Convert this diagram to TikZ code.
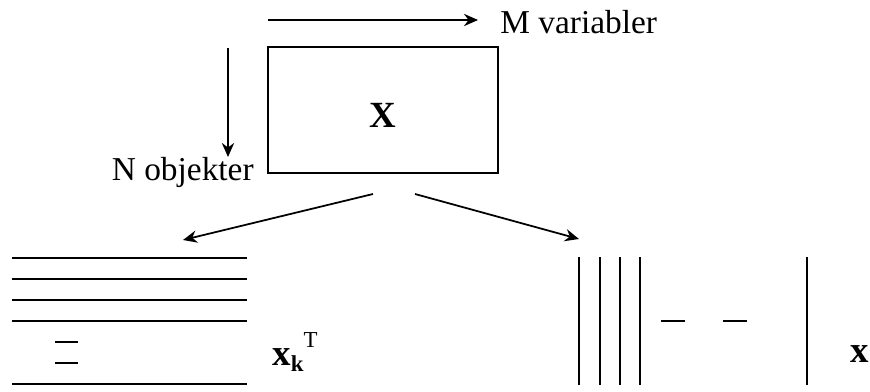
\documentclass[tikz,border=0pt]{standalone}
\usepackage{fontspec}
\setmainfont{Liberation Serif}
\usetikzlibrary{arrows.meta}

\tikzset{
  pil/.style={line width=1pt, -{Stealth[length=8pt,width=7pt]}},
  strek/.style={line width=1.6pt},
  tekst/.style={font=\fontsize{19}{21}\selectfont, inner sep=0pt}
}

\begin{document}
\begin{tikzpicture}[x=0.02cm, y=-0.02cm]
    \useasboundingbox (0,0) rectangle (870,392);
    % Datamatrisen X
    \node[draw, line width=1.2pt, minimum width=230*0.02cm, minimum height=126*0.02cm] (X) at (383,110) {};
    \node[font=\fontsize{21}{23}\selectfont\bfseries] (Xtekst) at (383,115) {X};
    % M variabler
    \coordinate (mstart) at (268,20);
    \coordinate (mslutt) at (478,20);
    \draw[pil] (mstart) -- (mslutt);
    \node[tekst, anchor=west] (M) at (500,22) {M variabler};
    % N objekter
    \coordinate (nstart) at (228,48);
    \coordinate (nslutt) at (228,157);
    \draw[pil] (nstart) -- (nslutt);
    \node[tekst, anchor=east] (N) at (254,172) {N objekter};
    % Pilene ned fra X
    \coordinate (venstre) at (373,194);
    \coordinate (hoyre) at (415,194);
    \coordinate (rader) at (183,240);
    \coordinate (kolonner) at (579,239);
    \draw[pil] (venstre) -- (rader);
    \draw[pil] (hoyre) -- (kolonner);
    % Radene x_k^T
    \draw[strek] (12,258) -- (247,258);
    \draw[strek] (12,279) -- (247,279);
    \draw[strek] (12,300) -- (247,300);
    \draw[strek] (12,321) -- (247,321);
    \draw[strek] (55,342) -- (78,342);
    \draw[strek] (55,363) -- (78,363);
    \draw[strek] (12,384) -- (247,384);
    \node[tekst, anchor=west, font=\fontsize{21}{23}\selectfont] (xk) at (272,352)
      {\textbf{x}\raisebox{-0.35ex}{\fontsize{13}{13}\selectfont\textbf{k}}\raisebox{1.1ex}{\fontsize{13}{13}\selectfont T}};
    % Kolonnene x
    \draw[strek] (579,257) -- (579,385);
    \draw[strek] (600,257) -- (600,385);
    \draw[strek] (620,257) -- (620,385);
    \draw[strek] (640,257) -- (640,385);
    \draw[strek] (661,321) -- (685,321);
    \draw[strek] (723,321) -- (747,321);
    \draw[strek] (807,257) -- (807,385);
    \node[tekst, anchor=west, font=\fontsize{21}{23}\selectfont] (x) at (850,354) {\textbf{x}};
\end{tikzpicture}
\end{document}
